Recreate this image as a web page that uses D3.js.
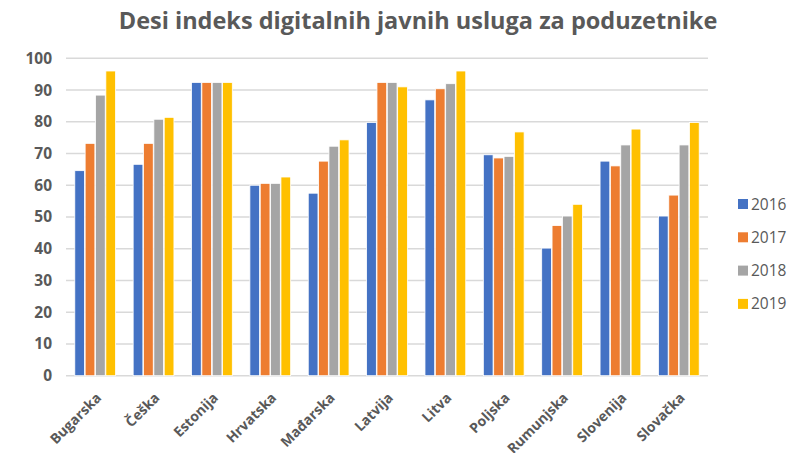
<!DOCTYPE html>
<html>
<head>
<meta charset="utf-8">
<script src="https://cdn.jsdelivr.net/npm/d3@7"></script>
<style>
  body { margin: 0; background: #fff; }
  text { font-family: "Open Sans", sans-serif; }
</style>
</head>
<body>
<div id="main"></div>
<script>
var countries = ["Bugarska", "Češka", "Estonija", "Hrvatska", "Mađarska", "Latvija", "Litva", "Poljska", "Rumunjska", "Slovenija", "Slovačka"]
var years = ["2016", "2017", "2018", "2019"]
var v2016 = [64.6, 66.6, 92.4, 60.0, 57.5, 79.8, 86.9, 69.6, 40.2, 67.6, 50.3]
var v2017 = [73.2, 73.2, 92.4, 60.6, 67.6, 92.4, 90.4, 68.6, 47.3, 66.1, 56.9]
var v2018 = [88.4, 80.8, 92.4, 60.6, 72.3, 92.4, 92.0, 69.1, 50.3, 72.7, 72.7]
var v2019 = [96.0, 81.4, 92.4, 62.6, 74.3, 91.0, 96.0, 76.8, 54.0, 77.7, 79.8]
var yTicks = [0, 10, 20, 30, 40, 50, 60, 70, 80, 90, 100]
var title = "Desi indeks digitalnih javnih usluga za poduzetnike"

var series = [v2016, v2017, v2018, v2019]
var colors = ["#4472C4", "#ED7D31", "#A5A5A5", "#FFC000"]
var grey = "#595959"

var W = 802, H = 453
var plotLeft = 66, plotRight = 708, plotTop = 58.3, plotBottom = 375.7

var svg = d3.select("#main").append("svg").attr("width", W).attr("height", H)

var x0 = d3.scaleBand().domain(countries).range([plotLeft, plotRight]).paddingInner(0.28).paddingOuter(0.14)
var x1 = d3.scaleBand().domain(years).range([0, x0.bandwidth()]).padding(0.06)
var y = d3.scaleLinear().domain([0, 100]).range([plotBottom, plotTop])

// gridlines
svg.append("g").selectAll("line")
  .data(yTicks)
  .enter()
  .append("line")
  .attr("x1", plotLeft).attr("x2", plotRight)
  .attr("y1", d => y(d)).attr("y2", d => y(d))
  .attr("stroke", "#D9D9D9")
  .attr("stroke-width", 1.5)

// y axis labels
var yAxis = d3.axisLeft(y).tickValues(yTicks).tickSize(0).tickPadding(0)
var ya = svg.append("g").attr("transform", `translate(${plotLeft - 14},0)`).call(yAxis)
ya.select(".domain").remove()
ya.selectAll("text")
  .attr("fill", grey)
  .attr("font-size", "15.5px")
  .attr("font-weight", "bold")
  .attr("font-family", "Open Sans, sans-serif")

// bars
var rows = []
countries.forEach((c, i) => {
  years.forEach((yr, j) => rows.push({ country: c, year: yr, value: series[j][i], color: colors[j] }))
})

svg.append("g").selectAll("rect")
  .data(rows)
  .enter()
  .append("rect")
  .attr("x", d => x0(d.country) + x1(d.year))
  .attr("width", x1.bandwidth())
  .attr("y", d => y(d.value))
  .attr("height", d => y(0) - y(d.value))
  .attr("fill", d => d.color)
  .attr("stroke", "#fff")
  .attr("stroke-width", 0.8)

// x labels
var xAxis = d3.axisBottom(x0).tickSize(0).tickPadding(0)
var xa = svg.append("g").attr("transform", `translate(0,${plotBottom})`).call(xAxis)
xa.select(".domain").remove()
xa.selectAll("text")
  .attr("fill", grey)
  .attr("font-size", "14px")
  .attr("font-weight", "bold")
  .attr("font-family", "Open Sans, sans-serif")
  .attr("text-anchor", "end")
  .attr("dy", 0)
  .attr("transform", "translate(7,23) rotate(-45)")

// title
svg.append("text")
  .attr("x", 418).attr("y", 29)
  .attr("text-anchor", "middle")
  .attr("fill", grey)
  .attr("font-size", "23.5px")
  .attr("font-weight", "bold")
  .text(title)

// legend
var leg = svg.append("g").selectAll("g")
  .data(years)
  .enter()
  .append("g")
  .attr("transform", (d, i) => `translate(738,${204 + i * 33.3})`)
leg.append("rect")
  .attr("x", 0).attr("y", -5)
  .attr("width", 10).attr("height", 10)
  .attr("fill", (d, i) => colors[i])
leg.append("text")
  .attr("x", 13).attr("y", 5.5)
  .attr("fill", grey)
  .attr("font-size", "15.5px")
  .attr("font-family", "Lato, sans-serif")
  .text(d => d)
</script>
</body>
</html>
